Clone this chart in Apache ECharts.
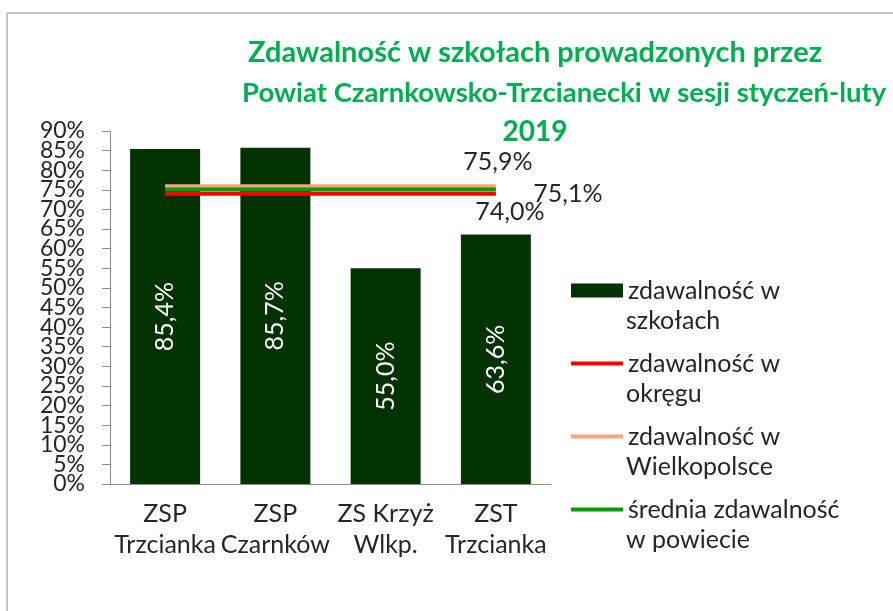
<!DOCTYPE html>
<html lang="pl">
<head>
<meta charset="UTF-8">
<title>Zdawalność w szkołach</title>
<script src="https://cdn.jsdelivr.net/npm/echarts@6/dist/echarts.min.js"></script>
<style>
  html, body { margin: 0; padding: 0; background: #fff; }
  #chart { width: 893px; height: 611px; }
</style>
</head>
<body>
<div id="chart"></div>
<script>
// dane
var szkoly = ['ZSP\nTrzcianka', 'ZSP\nCzarnków', 'ZS Krzyż\nWlkp.', 'ZST\nTrzcianka'];
var zdawalnoscSzkoly = [85.4, 85.7, 55.0, 63.6];
var zdawalnoscOkreg = [74.0, 74.0, 74.0, 74.0];
var zdawalnoscWlkp = [75.9, 75.9, 75.9, 75.9];
var sredniaPowiat = [75.1, 75.1, 75.1, 75.1];
var nazwy = ['zdawalność w szkołach', 'zdawalność w okręgu', 'zdawalność w Wielkopolsce', 'średnia zdawalność w powiecie'];
// legenda w dwóch wierszach (pierwszy wiersz w legendzie, drugi jako tekst pod spodem)
var legendaWiersz1 = ['zdawalność w', 'zdawalność w', 'zdawalność w', 'średnia zdawalność'];
var legendaWiersz2 = ['szkołach', 'okręgu', 'Wielkopolsce', 'w powiecie'];
var tytul = ['Zdawalność w szkołach prowadzonych przez', 'Powiat Czarnkowsko-Trzcianecki w sesji styczeń-luty', '2019'];
var osY = { min: 0, max: 90, krok: 5 };

var FONT = 'Lato';
var TXT = '#262626';
var GREEN_T = '#00B050';
var AXIS_C = '#8c8c8c';

function proc(v) {
    return v.toFixed(1).replace('.', ',') + '%';
}

var LEG_LEFT = 569, LEG_TOP = 275, LEG_STEP = 73;

var drugieWiersze = legendaWiersz2.map(function (t, i) {
    return {
        type: 'text',
        left: LEG_LEFT + 57,
        top: LEG_TOP + 33 + i * LEG_STEP,
        silent: true,
        style: { text: t, fill: TXT, font: '25px ' + FONT }
    };
});

var tytulStyl = { color: GREEN_T, fontFamily: FONT, fontWeight: 'bold', fontSize: 28 };

var etykietaY = {
    formatter: '{value}%',
    color: TXT,
    fontFamily: FONT,
    fontSize: 23,
    margin: 25
};

function etykietaKonca(wartosc, przesuniecie) {
    return {
        symbol: 'circle',
        symbolSize: 0,
        data: [{ coord: [szkoly.length - 1, wartosc], value: wartosc }],
        label: {
            show: true, position: 'inside', offset: przesuniecie,
            color: TXT, fontFamily: FONT, fontSize: 25,
            formatter: function (p) { return proc(p.value); }
        }
    };
}

var myChart = echarts.init(document.getElementById('chart'));
myChart.setOption({
    animation: false,
    textStyle: { fontFamily: FONT },
    title: [
        { text: tytul[0], left: 530, top: 33, textAlign: 'center',
          textStyle: Object.assign({}, tytulStyl, { fontSize: 29 }) },
        { text: tytul[1], left: 237, top: 74,
          textStyle: Object.assign({}, tytulStyl, { fontSize: 27.5 }) },
        { text: tytul[2], left: 530, top: 113, textAlign: 'center', textStyle: tytulStyl }
    ],
    graphic: [{
        type: 'polyline',
        shape: { points: [[7, 620], [7, 13], [900, 13]] },
        style: { stroke: AXIS_C, lineWidth: 1, fill: null },
        silent: true
    }].concat(drugieWiersze),
    legend: {
        orient: 'vertical',
        left: LEG_LEFT,
        top: LEG_TOP,
        padding: 0,
        itemWidth: 52,
        itemHeight: 14,
        itemGap: 42,
        data: [
            { name: nazwy[0], icon: 'rect' },
            { name: nazwy[1], itemStyle: { opacity: 0 }, lineStyle: { width: 4 } },
            { name: nazwy[2], itemStyle: { opacity: 0 }, lineStyle: { width: 4 } },
            { name: nazwy[3], itemStyle: { opacity: 0 }, lineStyle: { width: 4 } }
        ],
        formatter: function (name) { return legendaWiersz1[nazwy.indexOf(name)]; },
        textStyle: {
            color: TXT,
            fontFamily: FONT,
            fontSize: 25,
            lineHeight: 31
        }
    },
    grid: { left: 110, right: 342, top: 131, bottom: 127 },
    xAxis: {
        type: 'category',
        data: szkoly,
        axisLine: { lineStyle: { color: AXIS_C } },
        axisTick: { length: 9, lineStyle: { color: AXIS_C } },
        axisLabel: {
            color: TXT,
            fontFamily: FONT,
            fontSize: 25,
            lineHeight: 31,
            margin: 14,
            interval: 0
        }
    },
    yAxis: [
        {
            // główna oś: 5% ... 85%
            type: 'value',
            min: osY.min,
            max: osY.max,
            interval: osY.krok,
            axisLine: { show: true, lineStyle: { color: AXIS_C } },
            axisTick: { show: true, length: 8, lineStyle: { color: AXIS_C } },
            splitLine: { show: false },
            axisLabel: Object.assign({ showMinLabel: false, showMaxLabel: false }, etykietaY)
        },
        {
            // skrajne etykiety 0% i 90% (nakładają się na sąsiednie)
            type: 'value',
            position: 'left',
            min: osY.min,
            max: osY.max,
            interval: osY.max - osY.min,
            axisLine: { show: false },
            axisTick: { show: true, length: 8, lineStyle: { color: AXIS_C } },
            splitLine: { show: false },
            axisLabel: Object.assign({ showMinLabel: true, showMaxLabel: true }, etykietaY)
        }
    ],
    series: [
        {
            name: nazwy[0],
            type: 'bar',
            data: zdawalnoscSzkoly,
            barWidth: 70,
            itemStyle: { color: '#033303' },
            label: {
                show: true,
                position: 'inside',
                rotate: 90,
                color: '#ffffff',
                fontFamily: FONT,
                fontSize: 25,
                formatter: function (p) { return proc(p.value); }
            },
            z: 1
        },
        {
            name: nazwy[2],
            type: 'line',
            data: zdawalnoscWlkp,
            symbol: 'none',
            lineStyle: { color: '#F4A57C', width: 4 },
            itemStyle: { color: '#F4A57C' },
            markPoint: etykietaKonca(zdawalnoscWlkp[3], [2, -24]),
            z: 3
        },
        {
            name: nazwy[3],
            type: 'line',
            data: sredniaPowiat,
            symbol: 'none',
            lineStyle: { color: '#00A000', width: 4 },
            itemStyle: { color: '#00A000' },
            markPoint: etykietaKonca(sredniaPowiat[3], [72, 4]),
            z: 4
        },
        {
            name: nazwy[1],
            type: 'line',
            data: zdawalnoscOkreg,
            symbol: 'none',
            lineStyle: { color: '#FF0000', width: 4 },
            itemStyle: { color: '#FF0000' },
            markPoint: etykietaKonca(zdawalnoscOkreg[3], [14, 18]),
            z: 2
        }
    ]
});
</script>
</body>
</html>
